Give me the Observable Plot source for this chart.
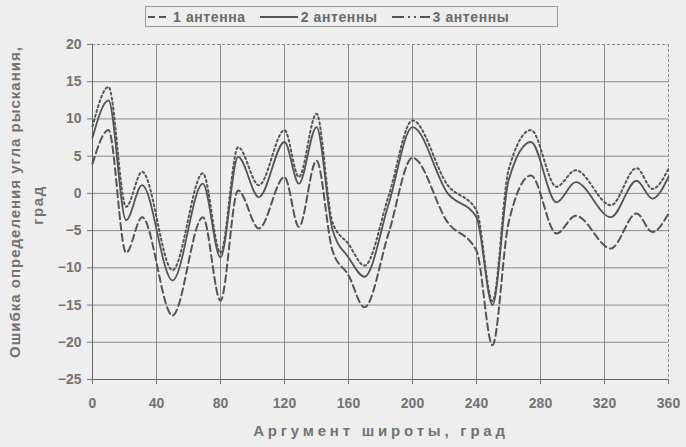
<!DOCTYPE html>
<html><head><meta charset="utf-8">
<script src="https://cdn.jsdelivr.net/npm/d3@7"></script>
<script src="https://cdn.jsdelivr.net/npm/@observablehq/plot@0.6"></script>
<style>
body{margin:0;background:#eeeeee;font-family:"Liberation Sans",Arial,sans-serif;}
#wrap{position:relative;width:686px;height:447px;background:#eeeeee;}
#legend{position:absolute;left:145px;top:6px;width:411px;height:19px;border:1px solid #9a9a9a;display:flex;align-items:center;font-size:14px;color:#6a6a6a;font-weight:bold;white-space:nowrap;box-sizing:content-box;letter-spacing:0.6px;}
#legend .it{display:flex;align-items:center;margin-left:2px;margin-right:12px;}
#legend svg{margin-right:3px;}
#chart{position:absolute;left:0;top:30px;}
</style></head><body>
<div id="wrap"><div id="legend"></div><div id="chart"></div></div>
<script>
const angles = [0, 10, 21, 31, 50, 69, 80, 91, 104, 120, 129, 140, 150, 160, 170, 185, 200, 222, 240, 250, 260, 274, 290, 302, 324, 340, 350, 360];
const err1 = [4, 8.5, -8, -3.2, -16.4, -3.2, -14.4, 0.4, -4.7, 2.2, -4.5, 4.4, -7.7, -11, -15.3, -5.4, 4.8, -3.9, -7.7, -20.4, -4, 2.4, -5.4, -3, -7.4, -2.7, -5.2, -2.7];
const err2 = [7.5, 12.5, -3.6, 1.1, -11.7, 1.3, -8.6, 4.9, -0.5, 6.9, 1.3, 8.9, -4.9, -8.6, -11.2, -1.5, 8.9, 0, -3.2, -15, 1.7, 6.9, -1.2, 1.5, -3.2, 1.7, -0.7, 2.2];
const err3 = [9, 14.3, -1.8, 2.9, -10.3, 2.7, -8, 6.2, 1.1, 8.5, 2.2, 10.7, -3.9, -6.8, -9.7, -0.4, 9.8, 1.1, -2.3, -14.5, 3.1, 8.5, 0.9, 3.1, -1.6, 3.4, 0.6, 3.3];
const seriesNames = ["1 антенна", "2 антенны", "3 антенны"];
const xTicks = [0, 40, 80, 120, 160, 200, 240, 280, 320, 360];
const yTicks = [-25, -20, -15, -10, -5, 0, 5, 10, 15, 20];
const xLabel = "Аргумент широты, град";
const yLabel1 = "Ошибка определения угла рыскания,";
const yLabel2 = "град";

const dashes = ["7,4", null, "2,3"];
const lineColor = "#555";
const textColor = "#737373";

const seriesVals = [err1, err2, err3];
const rows = [];
seriesVals.forEach((vals, s) => vals.forEach((v, i) => rows.push({angle: angles[i], err: v, series: seriesNames[s]})));

const xDom = [xTicks[0], xTicks[xTicks.length - 1]];
const yDom = [yTicks[0], yTicks[yTicks.length - 1]];

const lineMarks = seriesNames.map((name, s) =>
  Plot.line(rows.filter(r => r.series === name), {
    x: "angle", y: "err", stroke: lineColor, strokeWidth: s === 1 ? 1.8 : 2,
    strokeDasharray: dashes[s], curve: "monotone-x"
  })
);

const chart = Plot.plot({
  width: 686, height: 417,
  marginLeft: 92, marginRight: 18, marginTop: 14, marginBottom: 68,
  style: {background: "transparent", fontFamily: "'Liberation Sans', Arial, sans-serif", color: textColor},
  x: {domain: xDom},
  y: {domain: yDom},
  marks: [
    Plot.gridX(xTicks.slice(1, -1), {stroke: "#8c8c8c", strokeOpacity: 1, strokeWidth: 1}),
    Plot.gridY(yTicks.slice(1, -1), {stroke: "#8c8c8c", strokeOpacity: 1, strokeWidth: 1}),
    Plot.ruleY([yDom[1]], {stroke: "#8c8c8c", strokeDasharray: "3,2"}),
    Plot.ruleX([xDom[1]], {stroke: "#8c8c8c", strokeDasharray: "3,2"}),
    Plot.ruleX([xDom[0]], {stroke: "#666"}),
    Plot.ruleY([yDom[0]], {stroke: "#666"}),
    Plot.axisX(xTicks, {tickSize: 5, tickPadding: 14, fontSize: 14, fontWeight: "bold", fill: textColor, stroke: "#777", label: null}),
    Plot.axisY(yTicks, {tickSize: 5, tickPadding: 6, fontSize: 14, fontWeight: "bold", fill: textColor, stroke: "#777", label: null}),
    ...lineMarks,
  ]
});
document.getElementById("chart").appendChild(chart);

// axis titles as real text in the SVG
const svg = d3.select(chart);
svg.append("text").text(xLabel)
  .attr("x", 381).attr("y", 406).attr("text-anchor", "middle")
  .attr("font-size", 15).attr("font-weight", "bold").attr("letter-spacing", 3.8).attr("fill", textColor);
svg.append("text").text(yLabel1)
  .attr("transform", "translate(20,172) rotate(-90)").attr("text-anchor", "middle")
  .attr("font-size", 15).attr("font-weight", "bold").attr("letter-spacing", 1.0).attr("fill", textColor);
svg.append("text").text(yLabel2)
  .attr("transform", "translate(43,175) rotate(-90)").attr("text-anchor", "middle")
  .attr("font-size", 15).attr("font-weight", "bold").attr("letter-spacing", 1.6).attr("fill", textColor);

// legend
const leg = document.getElementById("legend");
seriesNames.forEach((name, s) => {
  const it = document.createElement("div");
  it.className = "it";
  const w = s === 0 ? 22 : 38;
  const sw = `<svg width="${w}" height="8"><line x1="0" y1="4" x2="${w}" y2="4" stroke="${lineColor}" stroke-width="2" ${s === 2 ? 'stroke-dasharray="12,4,2,4,2,4"' : (dashes[s] ? `stroke-dasharray="${dashes[s]}"` : "")}/></svg>`;
  it.innerHTML = sw + `<span>${name}</span>`;
  leg.appendChild(it);
});
</script>
</body></html>
